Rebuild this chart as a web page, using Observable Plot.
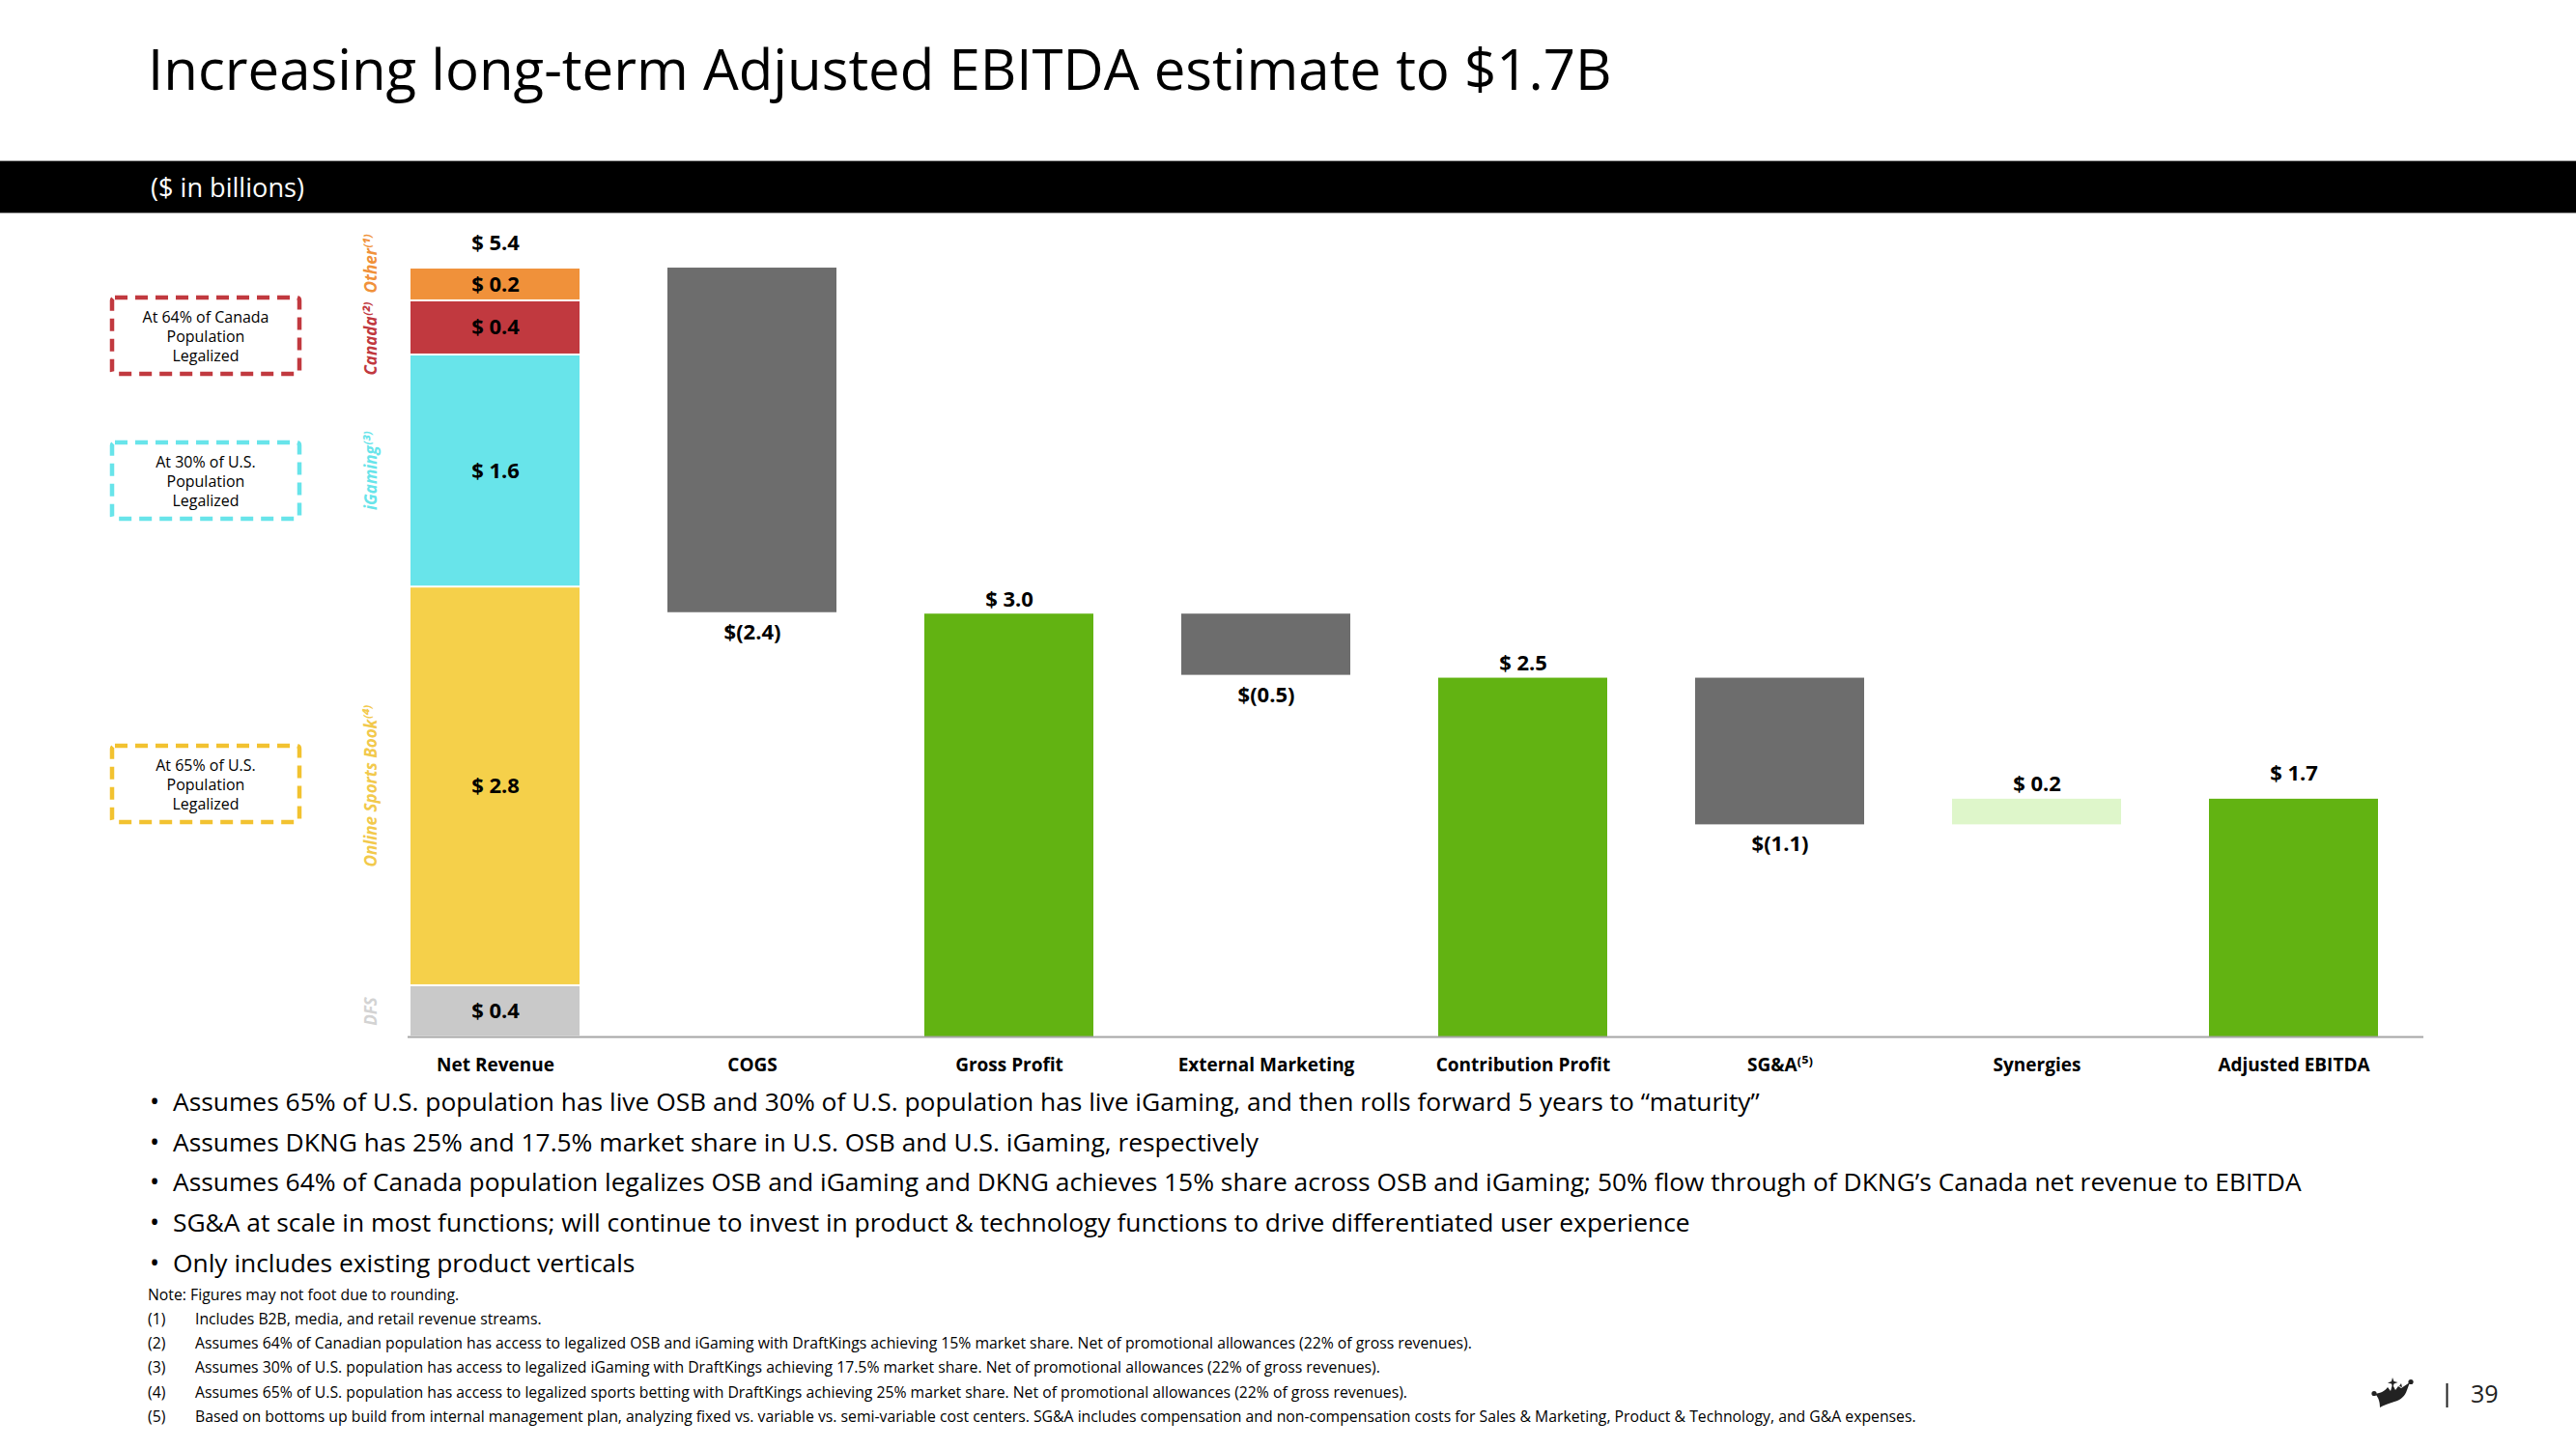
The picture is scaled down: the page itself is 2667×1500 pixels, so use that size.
<!DOCTYPE html>
<html>
<head>
<meta charset="utf-8">
<script src="https://cdn.jsdelivr.net/npm/d3@7"></script>
<script src="https://cdn.jsdelivr.net/npm/@observablehq/plot@0.6"></script>
<style>
  html, body { margin: 0; padding: 0; background: #fff; overflow: hidden; }
  #page { position: relative; width: 2667px; height: 1500px; overflow: hidden; font-family: "Open Sans", "Noto Sans", sans-serif; }
  #deco { position: absolute; left: 0; top: 0; }
  #chart { position: absolute; left: 0; top: 230px; }
  #chart svg { overflow: visible; }
</style>
</head>
<body>
<div id="page">
  <svg id="deco" width="2667" height="1500" xmlns="http://www.w3.org/2000/svg"></svg>
  <div id="chart"></div>
</div>
<script>
// ---------------- DATA ----------------
const title = "Increasing long-term Adjusted EBITDA estimate to $1.7B";
const subtitle = "($ in billions)";

const categories = ["Net Revenue", "COGS", "Gross Profit", "External Marketing", "Contribution Profit", "SG&A", "Synergies", "Adjusted EBITDA"];
const categoryTickLabels = ["Net Revenue", "COGS", "Gross Profit", "External Marketing", "Contribution Profit", "SG&A⁽⁵⁾", "Synergies", "Adjusted EBITDA"];
const stepKinds = ["total", "decrease", "subtotal", "decrease", "subtotal", "decrease", "increase", "total"];
const stepAmounts = [5.40, -2.42, 2.97, -0.43, 2.52, -1.03, 0.18, 1.67];
const stepLabels = ["$ 5.4", "$(2.4)", "$ 3.0", "$(0.5)", "$ 2.5", "$(1.1)", "$ 0.2", "$ 1.7"];

// Net Revenue stack, bottom to top
const segmentKeys = ["DFS", "Online Sports Book", "iGaming", "Canada", "Other"];
const segmentNames = ["DFS", "Online Sports Book⁽⁴⁾", "iGaming⁽³⁾", "Canada⁽²⁾", "Other⁽¹⁾"];
const segmentValues = [0.36, 2.80, 1.63, 0.38, 0.23];
const segmentLabels = ["$ 0.4", "$ 2.8", "$ 1.6", "$ 0.4", "$ 0.2"];

const boxTexts = [
  ["At 64% of Canada", "Population", "Legalized"],
  ["At 30% of U.S.", "Population", "Legalized"],
  ["At 65% of U.S.", "Population", "Legalized"]
];

const bullets = [
  "Assumes 65% of U.S. population has live OSB and 30% of U.S. population has live iGaming, and then rolls forward 5 years to “maturity”",
  "Assumes DKNG has 25% and 17.5% market share in U.S. OSB and U.S. iGaming, respectively",
  "Assumes 64% of Canada population legalizes OSB and iGaming and DKNG achieves 15% share across OSB and iGaming; 50% flow through of DKNG’s Canada net revenue to EBITDA",
  "SG&A at scale in most functions; will continue to invest in product & technology functions to drive differentiated user experience",
  "Only includes existing product verticals"
];
const noteText = "Note: Figures may not foot due to rounding.";
const footnoteNums = ["(1)", "(2)", "(3)", "(4)", "(5)"];
const footnotes = [
  "Includes B2B, media, and retail revenue streams.",
  "Assumes 64% of Canadian population has access to legalized OSB and iGaming with DraftKings achieving 15% market share. Net of promotional allowances (22% of gross revenues).",
  "Assumes 30% of U.S. population has access to legalized iGaming with DraftKings achieving 17.5% market share. Net of promotional allowances (22% of gross revenues).",
  "Assumes 65% of U.S. population has access to legalized sports betting with DraftKings achieving 25% market share. Net of promotional allowances (22% of gross revenues).",
  "Based on bottoms up build from internal management plan, analyzing fixed vs. variable vs. semi-variable cost centers. SG&A includes compensation and non-compensation costs for Sales & Marketing, Product & Technology, and G&A expenses."
];
const pageNumber = "39";

// ---------------- STYLES ----------------
const segmentColors = {"DFS": "#C9C9C9", "Online Sports Book": "#F5D04A", "iGaming": "#68E4EA", "Canada": "#C1393F", "Other": "#F0913A"};
const segmentTextColors = {"DFS": "#D3D3D3", "Online Sports Book": "#F2C94C", "iGaming": "#68E4EA", "Canada": "#C1393F", "Other": "#F0913A"};
const kindColors = {total: "#62B312", subtotal: "#62B312", decrease: "#6D6D6D", increase: "#DEF6CA"};
const boxColors = ["#C1393F", "#68E4EA", "#F2C230"];

// ---------------- TABLES ----------------
const netCat = categories[0];
let acc = 0;
const segRows = segmentKeys.map((k, i) => {
  const y1 = acc; acc += segmentValues[i];
  return {category: netCat, key: k, name: segmentNames[i], y1, y2: acc, mid: (y1 + acc) / 2,
          label: segmentLabels[i], fill: segmentColors[k], textFill: segmentTextColors[k]};
});
let level = 0;
const stepRows = categories.map((c, i) => {
  const kind = stepKinds[i], a = stepAmounts[i];
  let lo, hi;
  if (kind === "total" || kind === "subtotal") { lo = 0; hi = a; level = a; }
  else { const s = level; level = s + a; lo = Math.min(s, level); hi = Math.max(s, level); }
  return {category: c, kind, lo, hi, label: stepLabels[i], fill: kindColors[kind]};
});

// ---------------- CHART ----------------
const pxPerUnit = 147.4;
const H = 900, MB = 57;
const tickMap = new Map(categories.map((c, i) => [c, categoryTickLabels[i]]));
const font = "Open Sans";
const otherRow = segRows.find(d => d.key === "Other");
const canadaRow = segRows.find(d => d.key === "Canada");
const valFont = 22, rotFont = 17;

const chart = Plot.plot({
  width: 2667, height: H,
  marginTop: 0, marginBottom: MB, marginLeft: 422, marginRight: 158,
  x: {domain: categories, range: [424, 2464], paddingInner: 0.3415, paddingOuter: 0, label: null},
  y: {domain: [0, (H - MB) / pxPerUnit], axis: null},
  color: {type: "identity"},
  style: {fontFamily: font, background: "transparent", color: "#000", overflow: "visible"},
  marks: [
    Plot.barY(segRows, {x: "category", y1: "y1", y2: "y2", fill: "fill", insetTop: 1, insetBottom: 1}),
    Plot.barY(stepRows.filter(d => d.category !== netCat), {x: "category", y1: "lo", y2: "hi", fill: "fill"}),
    Plot.ruleY([0], {stroke: "#A6A6A6", strokeWidth: 2}),
    Plot.axisX({tickSize: 0, tickPadding: 22, fontSize: 19, fontWeight: "bold", tickFormat: d => tickMap.get(d), label: null}),
    // segment value labels
    Plot.text(segRows, {x: "category", y: "mid", text: "label", fontSize: valFont, fontWeight: "bold", fill: "#000", lineAnchor: "middle"}),
    // totals above
    Plot.text(stepRows.filter(d => d.kind === "total"), {x: "category", y: "hi", text: "label", fontSize: valFont, fontWeight: "bold", fill: "#000", lineAnchor: "bottom", dy: -19}),
    Plot.text(stepRows.filter(d => d.kind === "subtotal" || d.kind === "increase"), {x: "category", y: "hi", text: "label", fontSize: valFont, fontWeight: "bold", fill: "#000", lineAnchor: "bottom", dy: -8}),
    Plot.text(stepRows.filter(d => d.kind === "decrease"), {x: "category", y: "lo", text: "label", fontSize: valFont, fontWeight: "bold", fill: "#000", lineAnchor: "top", dy: 12}),
    // rotated segment names
    Plot.text(segRows.filter(d => d.key !== "Canada" && d.key !== "Other"), {x: "category", y: "mid", text: "name", rotate: -90, dx: -128, fill: "textFill", fontSize: rotFont, fontWeight: "bold", fontStyle: "italic", lineAnchor: "middle"}),
    Plot.text([canadaRow], {x: "category", y: "y2", text: "name", rotate: -90, dx: -128, dy: 2, textAnchor: "end", fill: "textFill", fontSize: rotFont, fontWeight: "bold", fontStyle: "italic", lineAnchor: "middle"}),
    Plot.text([otherRow], {x: "category", y: "y1", text: "name", rotate: -90, dx: -128, dy: -8, textAnchor: "start", fill: "textFill", fontSize: rotFont, fontWeight: "bold", fontStyle: "italic", lineAnchor: "middle"})
  ]
});
document.getElementById("chart").appendChild(chart);

// ---------------- DECORATION / TEXT ----------------
const NS = "http://www.w3.org/2000/svg";
const deco = document.getElementById("deco");
function el(tag, attrs, parent = deco) {
  const e = document.createElementNS(NS, tag);
  for (const k in attrs) e.setAttribute(k, attrs[k]);
  parent.appendChild(e);
  return e;
}
function txt(s, x, y, size, attrs = {}) {
  const t = el("text", Object.assign({x, y, "font-size": size, "font-family": font, fill: "#000"}, attrs));
  t.textContent = s;
  return t;
}
function fitSize(t, target) {
  const w = t.getComputedTextLength();
  const fs = parseFloat(t.getAttribute("font-size"));
  return fs * target / w;
}

// title
const tt = txt(title, 153, 93, 56);
tt.setAttribute("font-size", fitSize(tt, 1516));

// black band
el("rect", {x: 0, y: 166, width: 2667, height: 55, fill: "#9A9A9A"});
el("rect", {x: 0, y: 167, width: 2667, height: 53, fill: "#000"});
const st = txt(subtitle, 156, 204, 26, {fill: "#fff"});
st.setAttribute("font-size", fitSize(st, 159));

// dashed boxes
const boxTops = [308, 458, 772];
let boxFont = null;
boxTexts.forEach((lines, bi) => {
  el("rect", {x: 116, y: boxTops[bi], width: 194, height: 79, rx: 3, fill: "none", stroke: boxColors[bi], "stroke-width": 4.5, "stroke-dasharray": "13 8"});
  lines.forEach((ln, li) => {
    const t = txt(ln, 213, boxTops[bi] + 26 + li * 20, 16, {"text-anchor": "middle"});
    if (bi === 0 && li === 0) boxFont = fitSize(t, 131);
    t.setAttribute("data-box", "1");
  });
});
deco.querySelectorAll("[data-box]").forEach(t => t.setAttribute("font-size", boxFont));

// bullets
const bulletNodes = bullets.map((b, i) => {
  const y = 1150 + i * 41.7;
  txt("•", 155, y, 27);
  return txt(b, 179, y, 27);
});
const bFont = fitSize(bulletNodes[0], 1643);
bulletNodes.forEach(t => t.setAttribute("font-size", bFont));

// footnotes
const noteNode = txt(noteText, 153, 1346, 14);
const fnNodes = footnotes.map((f, i) => {
  const y = 1371 + i * 25.2;
  txt(footnoteNums[i], 153, y, 14).setAttribute("data-fn", "1");
  return txt(f, 202, y, 14);
});
const fFont = fitSize(fnNodes[4], 1783);
fnNodes.forEach(t => t.setAttribute("font-size", fFont));
noteNode.setAttribute("font-size", fFont);
deco.querySelectorAll("[data-fn]").forEach(t => t.setAttribute("font-size", fFont));

// crown logo + page number
const g = el("g", {transform: "translate(2455,1426)"});
el("path", {d: "M4 17 C10 16 14 14 17 10 L20 14 L22 7 L25 13 L28 9 L31 11 L40 5 L37 13 C35 19 31 23 24 25 C18 27 12 29 9 31 C9 26 8 21 4 17 Z", fill: "#222"}, g);
el("circle", {cx: 3, cy: 16.5, r: 2.6, fill: "#222"}, g);
el("circle", {cx: 41, cy: 4.5, r: 2.6, fill: "#222"}, g);
el("path", {d: "M22 0 L23.5 4 L27.5 5 L23.5 6.5 L22.5 10 L21 6.5 L17 5.5 L21 4 Z", fill: "#222"}, g);
el("path", {d: "M29 9 L31 6 L32 10 Z", fill: "#222"}, g);
el("rect", {x: 2532.5, y: 1432, width: 2, height: 25, fill: "#222"});
txt(pageNumber, 2558, 1452, 25, {fill: "#222"});
</script>
</body>
</html>
